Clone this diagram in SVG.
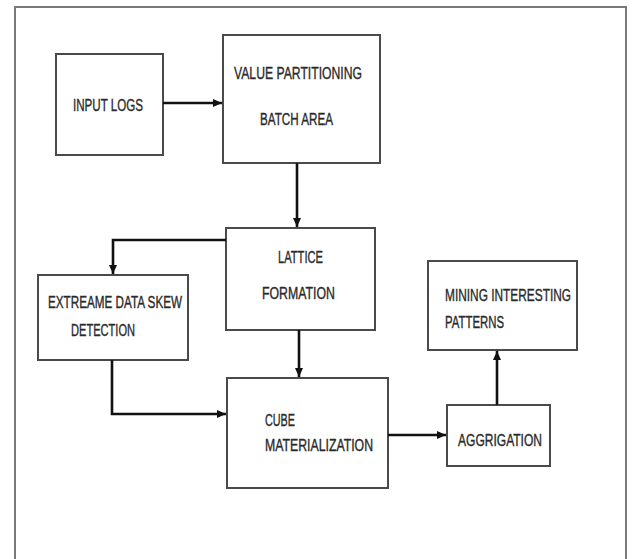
<svg xmlns="http://www.w3.org/2000/svg" width="635" height="559" viewBox="0 0 635 559">
<style>
.frame{fill:#fff;stroke:#7a7a7a;stroke-width:2}
.box{fill:#fff;stroke:#4a4a4a;stroke-width:2}
.lbl{font-family:"Liberation Sans",Arial,sans-serif;font-size:16px;fill:#2a2a2a;stroke:#2a2a2a;stroke-width:0.35}
.conn{fill:none;stroke:#111;stroke-width:2.6}
</style>
<defs>
<marker id="ah" markerUnits="userSpaceOnUse" markerWidth="10" markerHeight="10" refX="9" refY="5" orient="auto">
<path d="M0,1 L9,5 L0,9 Z" fill="#111"/>
</marker>
</defs>
<rect width="635" height="559" fill="#fff"/>
<rect class="frame" x="15" y="7" width="611" height="560"/>

<g id="input-logs">
<rect class="box" x="56" y="54" width="107" height="101"/>
<text class="lbl" x="73" y="111" textLength="70" lengthAdjust="spacingAndGlyphs">INPUT LOGS</text>
</g>
<g id="value-partitioning">
<rect class="box" x="223" y="35" width="157" height="128"/>
<text class="lbl" x="234" y="79" textLength="128" lengthAdjust="spacingAndGlyphs">VALUE PARTITIONING</text>
<text class="lbl" x="260" y="125" textLength="73" lengthAdjust="spacingAndGlyphs">BATCH AREA</text>
</g>
<g id="lattice-formation">
<rect class="box" x="226" y="228" width="149" height="102"/>
<text class="lbl" x="278" y="263" textLength="45" lengthAdjust="spacingAndGlyphs">LATTICE</text>
<text class="lbl" x="262" y="299" textLength="73" lengthAdjust="spacingAndGlyphs">FORMATION</text>
</g>
<g id="extreame-data-skew">
<rect class="box" x="38" y="275" width="150" height="85"/>
<text class="lbl" x="48" y="308" textLength="134" lengthAdjust="spacingAndGlyphs">EXTREAME DATA SKEW</text>
<text class="lbl" x="71" y="336" textLength="64" lengthAdjust="spacingAndGlyphs">DETECTION</text>
</g>
<g id="cube-materialization">
<rect class="box" x="227" y="378" width="161" height="110"/>
<text class="lbl" x="265" y="426" textLength="30" lengthAdjust="spacingAndGlyphs">CUBE</text>
<text class="lbl" x="265" y="451" textLength="108" lengthAdjust="spacingAndGlyphs">MATERIALIZATION</text>
</g>
<g id="aggrigation">
<rect class="box" x="447" y="405" width="103" height="61"/>
<text class="lbl" x="458" y="446" textLength="84" lengthAdjust="spacingAndGlyphs">AGGRIGATION</text>
</g>
<g id="mining-patterns">
<rect class="box" x="428" y="261" width="149" height="89"/>
<text class="lbl" x="445" y="301" textLength="126" lengthAdjust="spacingAndGlyphs">MINING INTERESTING</text>
<text class="lbl" x="445" y="328" textLength="59" lengthAdjust="spacingAndGlyphs">PATTERNS</text>
</g>

<g id="connectors">
<path class="conn" d="M163,103 L222,103" marker-end="url(#ah)"/>
<path class="conn" d="M297,163 L297,227" marker-end="url(#ah)"/>
<path class="conn" d="M226,240 L113,240 L113,274" marker-end="url(#ah)"/>
<path class="conn" d="M299,330 L299,377" marker-end="url(#ah)"/>
<path class="conn" d="M112,360 L112,414 L226,414" marker-end="url(#ah)"/>
<path class="conn" d="M388,435 L446,435" marker-end="url(#ah)"/>
<path class="conn" d="M497,405 L497,351" marker-end="url(#ah)"/>
</g>
</svg>
